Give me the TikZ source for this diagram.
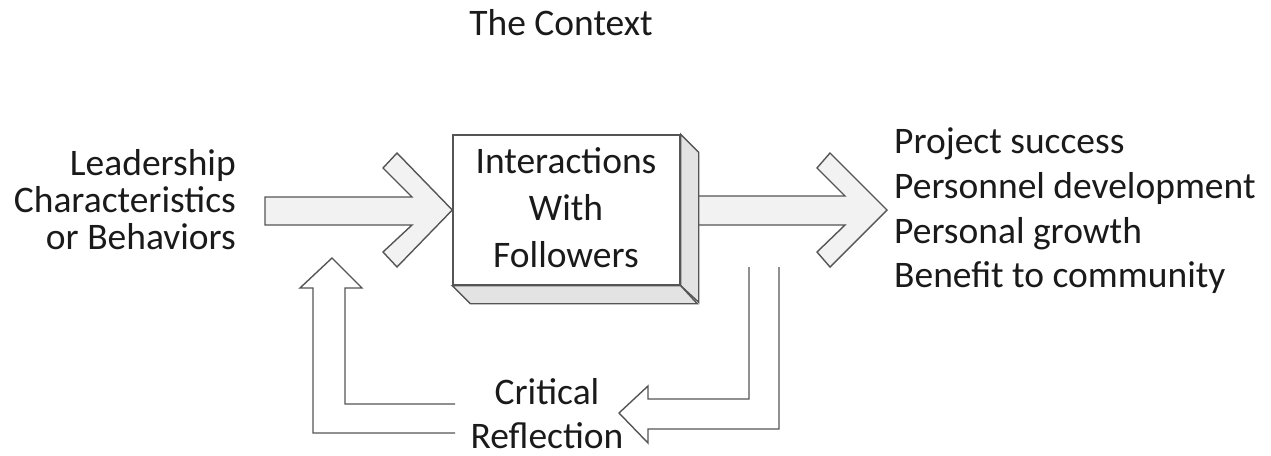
\documentclass[tikz,border=0pt]{standalone}
\usepackage{fontspec}
\setmainfont{Carlito}
\usetikzlibrary{calc}
\definecolor{edge}{HTML}{555555}
\definecolor{arrowfill}{HTML}{F2F2F2}
\definecolor{sidefill}{HTML}{E3E3E3}
\definecolor{txt}{HTML}{1A1A1A}
\begin{document}
\begin{tikzpicture}[x=1pt,y=-1pt,
  lbl/.style={inner sep=0pt,font=\fontsize{37.5}{44}\selectfont,text=txt},
  blockarrow/.style={draw=edge,line width=1.4pt,fill=arrowfill,line join=miter},
  openarrow/.style={draw=edge,line width=1.4pt,fill=none,line join=miter},
  face/.style={draw=edge,line width=1.4pt,fill=sidefill,line join=miter},
  frontbox/.style={draw=edge,line width=1.4pt,fill=white,minimum width=227pt,minimum height=150pt,inner sep=0pt}]
\useasboundingbox (0,0) rectangle (1271,455);

% title
\node[lbl,anchor=base] (title) at (561,35) {The Context};

% right block arrow (behind the box)
\draw[blockarrow] (690,196) -- (845,196) -- (817,168) -- (830,153) -- (887,210)
  -- (830,267) -- (817,252) -- (845,225) -- (690,225) -- cycle;

% box with 3D faces
\node[frontbox] (box) at (566.5,210) {};
\draw[face] (box.north east) -- ++(18,18) -- ++(0,150) -- (box.south east) -- cycle;
\draw[face] (box.south west) -- ++(18,18) -- ++(227,0) -- (box.south east) -- cycle;
\node[lbl,anchor=base] (int1) at (566,173) {Interactions};
\node[lbl,anchor=base] (int2) at (566,220) {With};
\node[lbl,anchor=base] (int3) at (566,267) {Followers};

% left block arrow into the box
\draw[blockarrow] (265,197) -- (412,197) -- (383,168) -- (397,153) -- (box.west)
  -- (397,267) -- (383,252) -- (412,225) -- (265,225) -- cycle;

% left text
\node[lbl,anchor=base east] (lead1) at (236,175) {Leadership};
\node[lbl,anchor=base east] (lead2) at (236,212) {Characteristics};
\node[lbl,anchor=base east] (lead3) at (236,249) {or Behaviors};

% right text
\node[lbl,anchor=base west] (out1) at (894,153) {Project success};
\node[lbl,anchor=base west] (out2) at (894,198) {Personnel development};
\node[lbl,anchor=base west] (out3) at (894,243) {Personal growth};
\node[lbl,anchor=base west] (out4) at (894,287) {Benefit to community};

% critical reflection text
\node[lbl,anchor=base] (crit1) at (547,404) {Critical};
\node[lbl,anchor=base] (crit2) at (547,448) {Reflection};

% feedback arrow down and left
\draw[openarrow] (749,267) -- (749,399) -- (648,399) -- (648,386) -- (619,413)
  -- (648,443) -- (648,429) -- (779,429) -- (779,267);

% feedback arrow up
\draw[openarrow] (455,404) -- (345,404) -- (345,288) -- (362,288) -- (332,258)
  -- (300,288) -- (313,288) -- (313,433) -- (455,433);
\end{tikzpicture}
\end{document}
